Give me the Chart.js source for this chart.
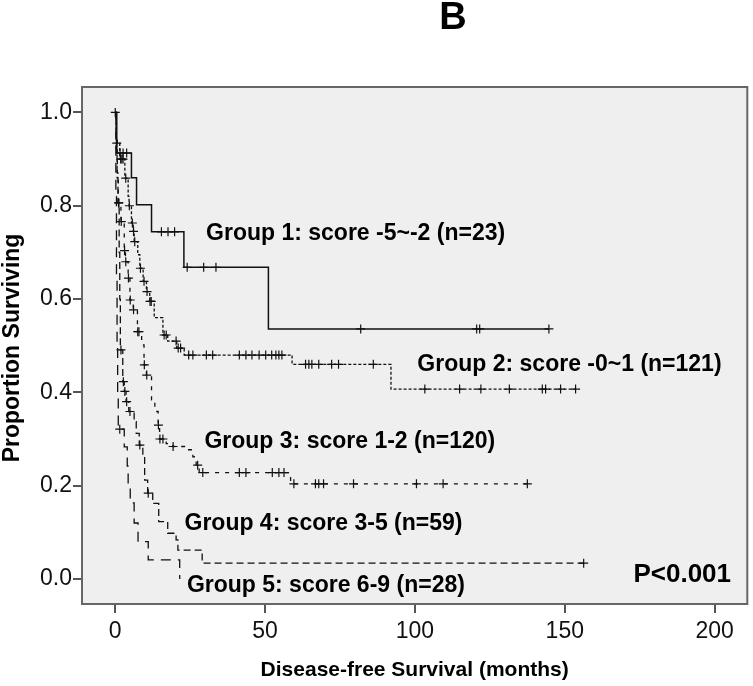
<!DOCTYPE html>
<html>
<head>
<meta charset="utf-8">
<script src="https://cdn.jsdelivr.net/npm/chart.js@4"></script>
<style>
html, body { margin: 0; padding: 0; background: #fff; }
</style>
</head>
<body>
<canvas id="km" width="753" height="686"></canvas>
<script>
// Kaplan-Meier: tempo do evento (meses) e sobrevida logo após o evento
const g1Times = [0, 0.5, 5.4, 7.1, 12.1, 22.9, 51.1];
const g1Surv = [1.0, 0.913, 0.860, 0.802, 0.744, 0.668, 0.536];
const g1Censored = [0, 1.6, 2.6, 3.8, 15.4, 17.6, 19.8, 24, 29.5, 33.6, 81.9, 120.6, 121.6, 144.7];

const g2Times = [0, 0.3, 1.5, 3.2, 4.3, 4.6, 5.4, 6.0, 6.3, 7.5, 8.2, 9.3, 10.4, 11.5, 13, 15.9, 17.5, 20.5, 23, 59, 92];
const g2Surv = [1.0, 0.934, 0.90, 0.859, 0.820, 0.80, 0.763, 0.745, 0.723, 0.695, 0.666, 0.638, 0.616, 0.595, 0.56, 0.523, 0.51, 0.495, 0.48, 0.46, 0.407];
const g2Censored = [0.5, 1.8, 2.2, 2.6, 3.5, 4.7, 5.7, 6.1, 6.5, 8.4, 9.6, 10.6, 11.6, 12, 16.3, 17, 20.3, 21, 21.8, 24.5, 25.9, 30.4, 32.5, 41.4, 43.6, 45.6, 48, 50.2, 52.2, 53.6, 54.6, 55.6, 63.5, 64.6, 65.6, 67.9, 72.2, 74.5, 86.1, 103.3, 114.9, 122, 131.5, 142.5, 143.6, 148.6, 153.6];

const g3Times = [0, 0.3, 0.7, 1.0, 1.9, 3.0, 3.4, 4.3, 4.9, 6.0, 7.4, 8.8, 9.6, 10.4, 12.1, 13.2, 14.3, 14.8, 17, 19.2, 23.1, 25.9, 27, 28, 58.5];
const g3Surv = [1.0, 0.94, 0.87, 0.806, 0.766, 0.704, 0.68, 0.645, 0.598, 0.577, 0.53, 0.502, 0.459, 0.437, 0.384, 0.359, 0.33, 0.30, 0.29, 0.284, 0.277, 0.262, 0.244, 0.228, 0.204];
const g3Censored = [1.2, 2.0, 3.1, 3.5, 4.4, 5.0, 6.1, 7.5, 7.9, 9.7, 10.5, 14.4, 14.9, 15.9, 19.3, 27.5, 29.2, 41.4, 43.6, 52.4, 54.6, 56.3, 59.6, 66.8, 67.9, 69.5, 79.5, 100.5, 109.4, 137.5];

const g4Times = [0, 0.3, 0.6, 0.9, 1.3, 1.5, 1.7, 2.5, 3.0, 3.6, 4.5, 6.3, 7.0, 8.0, 9.2, 9.8, 10.8, 12.5, 14.5, 17.5, 20.3, 20.9, 29.0];
const g4Surv = [1.0, 0.92, 0.86, 0.806, 0.70, 0.60, 0.491, 0.423, 0.402, 0.38, 0.359, 0.337, 0.312, 0.287, 0.262, 0.212, 0.184, 0.162, 0.123, 0.098, 0.084, 0.062, 0.034];
const g4Censored = [1.1, 1.9, 2.7, 3.2, 3.8, 4.9, 8.2, 11.0, 156.3];

const g5Times = [0, 0.2, 0.4, 0.6, 0.8, 1.0, 3.0, 4.0, 4.3, 5.0, 6.3, 7.6, 11.0, 21.5];
const g5Surv = [1.0, 0.82, 0.64, 0.50, 0.39, 0.321, 0.283, 0.242, 0.20, 0.163, 0.12, 0.08, 0.041, 0];
const g5Censored = [1.5];

const xTicks = [0, 50, 100, 150, 200];
const yTicks = [0, 0.2, 0.4, 0.6, 0.8, 1.0];

const groupLabels = [
    'Group 1: score -5~-2 (n=23)',
    'Group 2: score -0~1 (n=121)',
    'Group 3: score 1-2 (n=120)',
    'Group 4: score 3-5 (n=59)',
    'Group 5: score 6-9 (n=28)'
];

const FONT = '"Liberation Sans", Arial, sans-serif';

// valor da curva em degrau no tempo t
function stepValue(times, surv, t) {
    let v = surv[0];
    for (let i = 0; i < times.length; i++) {
        if (times[i] <= t) v = surv[i];
    }
    return v;
}

function curvePoints(times, surv, censored) {
    const pts = times.map((t, i) => ({ x: t, y: surv[i] }));
    const last = Math.max(...censored);
    if (last > times[times.length - 1]) pts.push({ x: last, y: surv[surv.length - 1] });
    return pts;
}

function censorPoints(times, surv, censored) {
    return censored.map(t => ({ x: t, y: stepValue(times, surv, t) }));
}

const groups = [
    { times: g1Times, surv: g1Surv, cens: g1Censored, dash: [], width: 1.5 },
    { times: g2Times, surv: g2Surv, cens: g2Censored, dash: [3, 2], width: 1.3 },
    { times: g3Times, surv: g3Surv, cens: g3Censored, dash: [4, 6], width: 1.3 },
    { times: g4Times, surv: g4Surv, cens: g4Censored, dash: [7, 4], width: 1.3 },
    { times: g5Times, surv: g5Surv, cens: g5Censored, dash: [10, 7], width: 1.3 }
];

const datasets = [];
groups.forEach((g, i) => {
    datasets.push({
        label: groupLabels[i],
        data: curvePoints(g.times, g.surv, g.cens),
        showLine: true,
        stepped: 'before',
        borderColor: '#111',
        borderWidth: g.width,
        borderDash: g.dash,
        pointRadius: 0,
        fill: false
    });
    datasets.push({
        label: groupLabels[i] + ' censored',
        data: censorPoints(g.times, g.surv, g.cens),
        showLine: false,
        pointStyle: 'cross',
        pointRadius: 4.5,
        borderColor: '#111',
        borderWidth: 1.2
    });
});

// posições dos textos em unidades de dados
const textNotes = [
    { text: groupLabels[0], x: 30.3, y: 0.7255, size: 23 },
    { text: groupLabels[1], x: 100.8, y: 0.4467, size: 23 },
    { text: groupLabels[2], x: 29.75, y: 0.2803, size: 23 },
    { text: groupLabels[3], x: 23.1, y: 0.105, size: 23 },
    { text: groupLabels[4], x: 23.9, y: -0.0272, size: 23 },
    { text: 'P<0.001', x: 172.9, y: -0.0058, size: 26 }
];

const framePlugin = {
    id: 'frame',
    beforeDraw(chart) {
        const { ctx, chartArea: a } = chart;
        ctx.save();
        ctx.fillStyle = '#efefef';
        ctx.fillRect(a.left, a.top, a.right - a.left, a.bottom - a.top);
        ctx.restore();
    },
    afterDraw(chart) {
        const { ctx, chartArea: a, scales } = chart;
        ctx.save();
        ctx.strokeStyle = '#666';
        ctx.lineWidth = 2;
        ctx.strokeRect(a.left, a.top, a.right - a.left, a.bottom - a.top);

        ctx.fillStyle = '#000';
        ctx.textBaseline = 'alphabetic';
        ctx.textAlign = 'left';
        textNotes.forEach(n => {
            ctx.font = 'bold ' + n.size + 'px ' + FONT;
            ctx.fillText(n.text, scales.x.getPixelForValue(n.x), scales.y.getPixelForValue(n.y));
        });

        ctx.textAlign = 'center';
        ctx.font = 'bold 38px ' + FONT;
        ctx.fillText('B', 453, 29);

        ctx.font = 'bold 21px ' + FONT;
        ctx.fillText('Disease-free Survival (months)', (a.left + a.right) / 2, 676);

        ctx.translate(19, 348);
        ctx.rotate(-Math.PI / 2);
        ctx.font = 'bold 23px ' + FONT;
        ctx.fillText('Proportion Surviving', 0, 0);
        ctx.restore();
    }
};

new Chart(document.getElementById('km'), {
    type: 'scatter',
    data: { datasets: datasets },
    options: {
        responsive: false,
        animation: false,
        layout: { padding: { top: 87, right: 2, left: 0, bottom: 0 } },
        plugins: {
            legend: { display: false },
            tooltip: { enabled: false }
        },
        scales: {
            x: {
                type: 'linear',
                min: -11.1,
                max: 210.9,
                afterFit(scale) { scale.height = 82; },
                afterBuildTicks(scale) { scale.ticks = xTicks.map(v => ({ value: v })); },
                ticks: {
                    includeBounds: false,
                    color: '#111',
                    padding: 5,
                    font: { family: FONT, size: 23 }
                },
                grid: { drawOnChartArea: false, drawTicks: true, tickLength: 9, color: '#555', lineWidth: 2 },
                border: { display: false }
            },
            y: {
                type: 'linear',
                min: -0.0536,
                max: 1.0545,
                afterFit(scale) { scale.width = 82; },
                afterBuildTicks(scale) { scale.ticks = yTicks.map(v => ({ value: v })); },
                ticks: {
                    includeBounds: false,
                    color: '#111',
                    padding: 1,
                    font: { family: FONT, size: 23 },
                    callback: v => v.toFixed(1)
                },
                grid: { drawOnChartArea: false, drawTicks: true, tickLength: 9, color: '#555', lineWidth: 2 },
                border: { display: false }
            }
        }
    },
    plugins: [framePlugin]
});
</script>
</body>
</html>
